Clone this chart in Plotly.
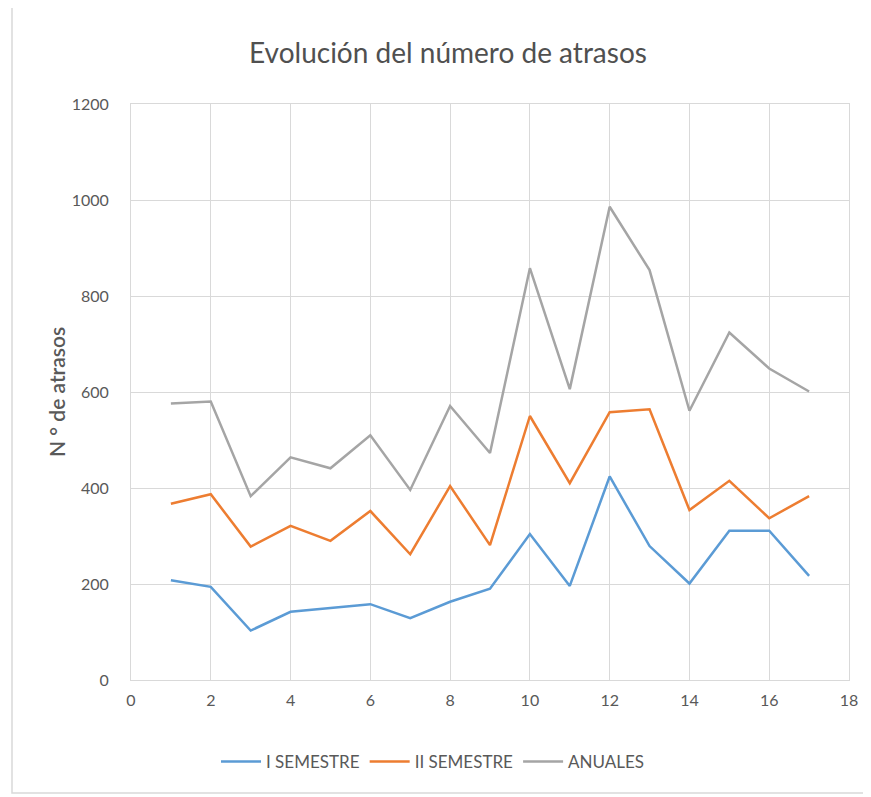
import plotly.graph_objects as go

x_vals = list(range(1, 18))
sem1 = [208, 194, 103, 142, 150, 158, 129, 163, 190, 304, 196, 424, 279, 201, 311, 311, 217]
sem2 = [367, 387, 278, 321, 290, 352, 262, 404, 281, 550, 410, 558, 564, 354, 415, 337, 383]
anuales = [576, 580, 383, 464, 441, 510, 396, 571, 473, 858, 606, 986, 854, 561, 724, 649, 601]

series_names = ["I SEMESTRE", "II SEMESTRE", "ANUALES"]
series_colors = ["#5B9BD5", "#ED7D31", "#A5A5A5"]

OFF = 8  # page body margin
W, H = 871 - OFF, 797 - OFF
# target plot area in screen px: x 131..849, y 104..680
L, T = 131 - OFF, 104 - OFF
R = (W + OFF) - 849
B = (H + OFF) - 680
pw = W - L - R
ph = H - T - B

def px2x(p):
    return (p - OFF - L) / pw

def py2y(p):
    return (H - B - (p - OFF)) / ph

font_family = "Lato, 'Open Sans', sans-serif"
txt_color = "#595959"

fig = go.Figure()
for name, vals, col in zip(series_names, [sem1, sem2, anuales], series_colors):
    fig.add_trace(go.Scatter(x=x_vals, y=vals, mode="lines", name=name,
                             line=dict(color=col, width=2.5)))

fig.update_layout(
    width=W, height=H,
    margin=dict(l=L, r=R, t=T, b=B),
    paper_bgcolor="white", plot_bgcolor="white",
    font=dict(family=font_family, color=txt_color, size=16),
    title=dict(text="Evolución del número de atrasos", x=(448 - OFF) / W,
               xanchor="center", y=1 - (53 - OFF) / H, yanchor="middle",
               font=dict(size=28, color="#505050", family=font_family)),
    showlegend=True,
    legend=dict(orientation="h", x=px2x(216), y=py2y(762), xanchor="left", yanchor="middle",
                font=dict(size=17, color=txt_color), tracegroupgap=0, itemwidth=40),
    xaxis=dict(range=[0, 18], dtick=2, tick0=0, showgrid=True, gridcolor="#d9d9d9", gridwidth=1,
               zeroline=False, showline=True, linecolor="#d9d9d9", mirror=True,
               ticks="", ticklabelstandoff=6, tickfont=dict(size=16, color=txt_color)),
    yaxis=dict(range=[0, 1200], dtick=200, showgrid=True, gridcolor="#d9d9d9", gridwidth=1,
               zeroline=False, showline=True, linecolor="#d9d9d9", mirror=True,
               ticks="", ticklabelstandoff=18, tickfont=dict(size=16, color=txt_color)),
    shapes=[dict(type="rect", xref="paper", yref="paper",
                 x0=px2x(12), x1=px2x(885), y0=py2y(793), y1=py2y(6),
                 line=dict(color="#d9d9d9", width=1.5), fillcolor="rgba(0,0,0,0)", layer="below")],
    annotations=[dict(text="N ° de atrasos", xref="paper", yref="paper", x=px2x(56), y=0.5,
                      textangle=-90, showarrow=False, xanchor="center", yanchor="middle",
                      font=dict(size=21, color=txt_color, family=font_family, weight=600))],
)

fig.write_html("out.html")
